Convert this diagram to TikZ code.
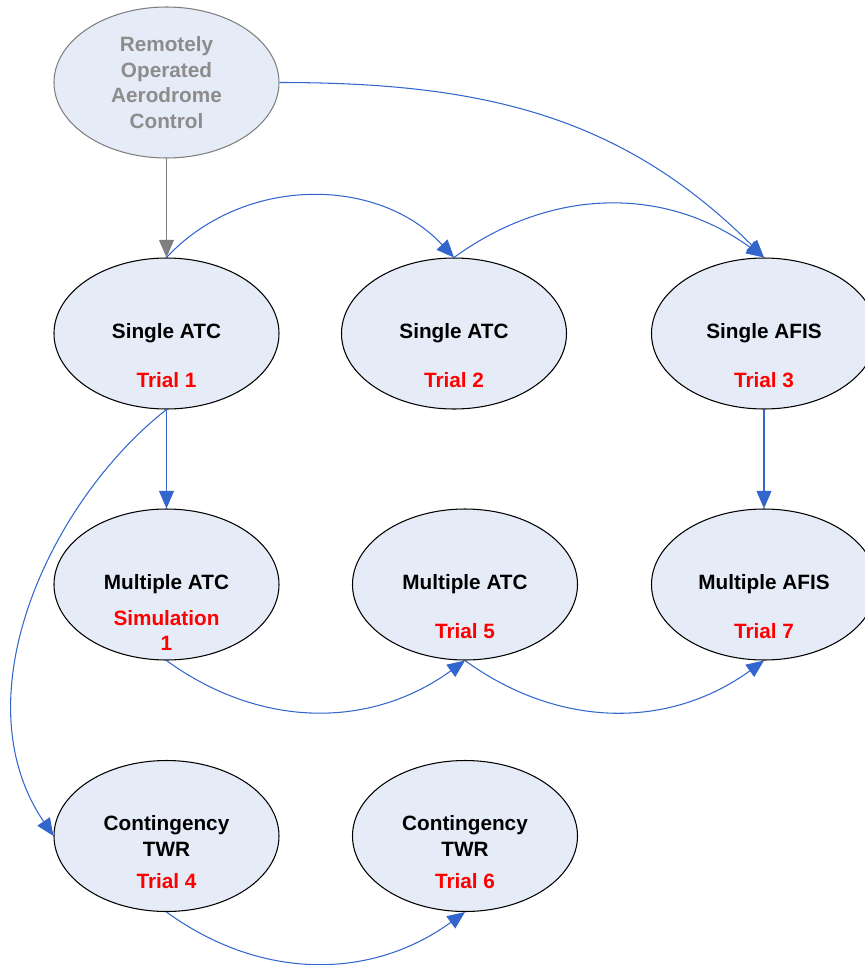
\documentclass[tikz,border=0pt]{standalone}
\usepackage{fontspec}
\setmainfont{Liberation Sans}
\usetikzlibrary{shapes.geometric, arrows.meta, positioning}
\definecolor{phasefill}{HTML}{E6ECF7}
\definecolor{linkblue}{HTML}{3366CC}
\definecolor{greytext}{HTML}{8C8C8C}
\definecolor{greyline}{HTML}{7F7F7F}

\begin{document}
\begin{tikzpicture} [node distance = 5.02cm, on grid,
  phase/.style = {ellipse, draw, line width=0.6pt, fill=phasefill, minimum width=4.5cm,
    minimum height=3.02cm, inner sep=0pt, align=center,
    font=\fontsize{11.8}{14.5}\selectfont\bfseries},
  trial/.style = {text=red, align=center, font=\fontsize{11.8}{14.5}\selectfont\bfseries},
  link/.style = {-{Triangle[length=10pt, width=8.5pt]}, draw=linkblue, line width=0.6pt}]

\path [use as bounding box] (-3.33,1.65) rectangle (13.97,-17.65);

% phases
\node (roac) [phase, draw=greyline, text=greytext] {Remotely\\Operated\\Aerodrome\\Control};
\node (s1) [phase, below = of roac] {Single ATC};
\node (s2) [phase, right = 5.75cm of s1] {Single ATC};
\node (s3) [phase, right = 6.2cm of s2] {Single AFIS};
\node (m1) [phase, below = of s1] {Multiple ATC};
\node (m2) [phase, right = 5.97cm of m1] {Multiple ATC};
\node (m3) [phase, right = 5.98cm of m2] {Multiple AFIS};
\node (c1) [phase, below = 5.03cm of m1] {Contingency\\TWR};
\node (c2) [phase, right = 5.97cm of c1] {Contingency\\TWR};

% trials
\node (t1) [trial] at ([yshift=-0.93cm]s1.center) {Trial 1};
\node (t2) [trial] at ([yshift=-0.93cm]s2.center) {Trial 2};
\node (t3) [trial] at ([yshift=-0.93cm]s3.center) {Trial 3};
\node (sim1) [trial] at ([yshift=-0.92cm]m1.center) {Simulation\\1};
\node (t5) [trial] at ([yshift=-0.93cm]m2.center) {Trial 5};
\node (t7) [trial] at ([yshift=-0.93cm]m3.center) {Trial 7};
\node (t4) [trial] at ([yshift=-0.9cm]c1.center) {Trial 4};
\node (t6) [trial] at ([yshift=-0.9cm]c2.center) {Trial 6};

% links
\draw [link, draw=greyline] (roac) -- (s1);
\draw [link] (roac.east) to [out=0, in=135] (s3.north);
\draw [link] (s1.north) to [bend left=47] (s2.north);
\draw [link] (s2.north) to [bend left=36] (s3.north);
\draw [link] (s1) -- (m1);
\draw [link] (s3) -- (m3);
\draw [link] (s1.south) .. controls +(-2.3,-1.8) and +(-1.9,2.8) .. (c1.west);
\draw [link] (m1.south) to [bend right=36] (m2.south);
\draw [link] (m2.south) to [bend right=36] (m3.south);
\draw [link] (c1.south) to [bend right=36] (c2.south);
\end{tikzpicture}
\end{document}
